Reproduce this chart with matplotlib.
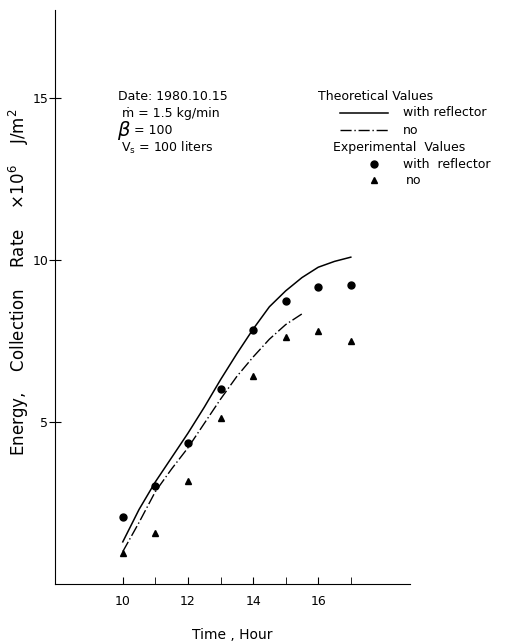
import numpy as np
import matplotlib
matplotlib.use("Agg")
import matplotlib.pyplot as plt

# theoretical curves
t_refl = [10, 10.5, 11, 11.5, 12, 12.5, 13, 13.5, 14, 14.5, 15, 15.5, 16, 16.5, 17]
e_refl = [1.3, 2.3, 3.15, 3.9, 4.65, 5.45, 6.3, 7.1, 7.86, 8.55, 9.04, 9.45, 9.77, 9.95, 10.08]

t_no = [10, 10.5, 11, 11.5, 12, 12.5, 13, 13.5, 14, 14.5, 15, 15.5]
e_no = [1.0, 1.9, 2.85, 3.55, 4.2, 4.95, 5.7, 6.4, 7.0, 7.55, 8.0, 8.33]

# experimental points
hours = [10, 11, 12, 13, 14, 15, 16, 17]
exp_refl = [2.08, 3.03, 4.36, 6.01, 7.84, 8.74, 9.16, 9.23]
exp_no = [0.97, 1.56, 3.18, 5.13, 6.40, 7.63, 7.79, 7.50]

fig = plt.figure(figsize=(5.24, 6.42), dpi=100)
ax = fig.add_axes([0.105, 0.0903, 0.677, 0.894])

ax.plot(t_refl, e_refl, color='black', lw=1.1)
ax.plot(t_no, e_no, color='black', lw=1.0, linestyle=(0, (8, 2, 1, 2)))
ax.plot(hours, exp_refl, 'o', color='black', ms=5)
ax.plot(hours, exp_no, '^', color='black', ms=5)

ax.set_xlim(7.92, 18.81)
ax.set_ylim(0, 17.7)
ax.spines['top'].set_visible(False)
ax.spines['right'].set_visible(False)

ax.set_xticks([10, 12, 14, 16])
ax.set_xticks([11, 13, 15, 17], minor=True)
ax.tick_params(axis='x', which='both', direction='in', length=5, labelsize=9, pad=8)
ax.set_yticks([5, 10, 15])
ax.tick_params(axis='y', direction='inout', length=8, labelsize=9, pad=1)

ax.set_xlabel('Time , Hour', fontsize=10, labelpad=14)
ax.set_ylabel(r'Energy,    Collection    Rate    $\times 10^6$    J/m$^2$', fontsize=12)
ax.yaxis.set_label_coords(-0.068, 0.525)

# condition block
fig.text(118 / 524, 1 - 97 / 642, 'Date: 1980.10.15', fontsize=9, va='center')
fig.text(122 / 524, 1 - 114 / 642, 'ṁ = 1.5 kg/min', fontsize=9, va='center')
fig.text(117 / 524, 1 - 131 / 642, r'$\beta$', fontsize=14, va='center')
fig.text(134 / 524, 1 - 131 / 642, '= 100', fontsize=9, va='center')
fig.text(121 / 524, 1 - 148 / 642, r'V$_\mathregular{s}$ = 100 liters', fontsize=9, va='center')

# legend drawn by hand
fig.text(318 / 524, 1 - 97 / 642, 'Theoretical Values', fontsize=9, va='center')
fig.add_artist(plt.Line2D([340 / 524, 388 / 524], [1 - 113 / 642] * 2, color='black', lw=1.1))
fig.text(403 / 524, 1 - 113 / 642, 'with reflector', fontsize=9, va='center')
fig.add_artist(plt.Line2D([340 / 524, 388 / 524], [1 - 130 / 642] * 2, color='black', lw=1.0,
                          linestyle=(0, (8, 2, 1, 2))))
fig.text(403 / 524, 1 - 130 / 642, 'no', fontsize=9, va='center')
fig.text(333 / 524, 1 - 148 / 642, 'Experimental  Values', fontsize=9, va='center')
fig.add_artist(plt.Line2D([374 / 524], [1 - 164 / 642], marker='o', color='black', ms=5))
fig.text(403 / 524, 1 - 164 / 642, 'with  reflector', fontsize=9, va='center')
fig.add_artist(plt.Line2D([374 / 524], [1 - 180 / 642], marker='^', color='black', ms=5))
fig.text(406 / 524, 1 - 180 / 642, 'no', fontsize=9, va='center')

fig.savefig('out.png', dpi=100)
